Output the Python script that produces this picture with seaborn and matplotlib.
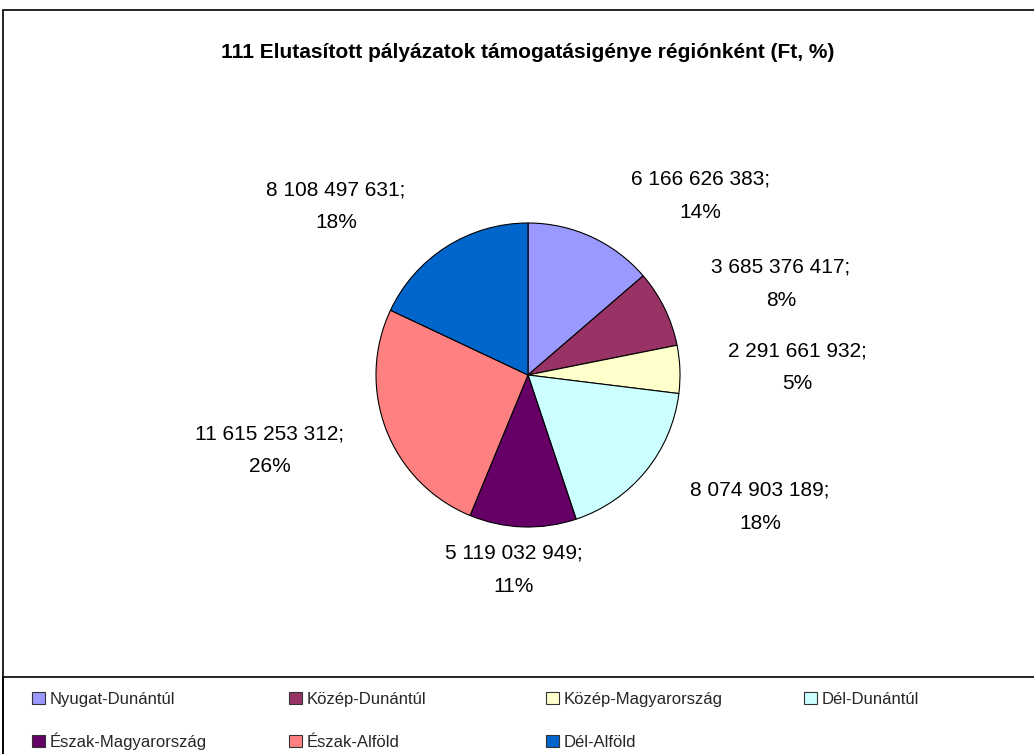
import numpy as np
import matplotlib
matplotlib.use('Agg')
import matplotlib.pyplot as plt
import seaborn as sns
from matplotlib.patches import Rectangle, Patch

regions = ['Nyugat-Dunántúl', 'Közép-Dunántúl', 'Közép-Magyarország', 'Dél-Dunántúl',
           'Észak-Magyarország', 'Észak-Alföld', 'Dél-Alföld']
amounts = [6166626383, 3685376417, 2291661932, 8074903189,
           5119032949, 11615253312, 8108497631]
colors = ['#9999FF', '#993366', '#FFFFCC', '#CCFFFF', '#660066', '#FF8080', '#0066CC']
title = '111 Elutasított pályázatok támogatásigénye régiónként (Ft, %)'

sns.set_theme(style='white')
plt.rcParams['font.family'] = ['Liberation Sans', 'DejaVu Sans']

W, H = 1034, 754
fig = plt.figure(figsize=(W / 100, H / 100), dpi=100)
fig.patch.set_facecolor('white')

# outer chart border and legend box
fig.add_artist(Rectangle((3 / W, -0.1), 1.2, 1 - 10 / H + 0.1, transform=fig.transFigure,
                         fill=False, edgecolor='black', linewidth=1.2))
fig.add_artist(Rectangle((3 / W, -0.1), 1.2, 0.1 + 77 / H, transform=fig.transFigure,
                         fill=False, edgecolor='black', linewidth=1.2))

fig.text(528 / W, 1 - 52 / H, title, ha='center', va='center',
         fontsize=15, fontweight='bold', color='black')

R = 152
cx, cy = 528, 375
ax = fig.add_axes([(cx - R) / W, 1 - (cy + R) / H, 2 * R / W, 2 * R / H])
wedges, _ = ax.pie(amounts, colors=colors, startangle=90, counterclock=False,
                   wedgeprops=dict(edgecolor='black', linewidth=0.8))
ax.set_xlim(-1, 1)
ax.set_ylim(-1, 1)
ax.set_aspect('equal')
ax.axis('off')

total = sum(amounts)
box_w, box_h = 205, 55
for w, v in zip(wedges, amounts):
    ang = np.deg2rad((w.theta1 + w.theta2) / 2)
    c, s = np.cos(ang), np.sin(ang)
    hx = np.clip(2.5 * c, -1, 1)
    hy = np.clip(1.5 * s, -1, 1)
    label = f"{v:,}".replace(",", " ") + ";\n" + f"{round(v / total * 100):.0f}%"
    ax.annotate(label, xy=(1.1 * c, 1.1 * s),
                xytext=(hx * box_w / 2, hy * box_h / 2), textcoords='offset pixels',
                ha='center', va='center', multialignment='center',
                fontsize=15, linespacing=1.95, color='black', annotation_clip=False)

# legend: 4 equal-width columns, filled row by row; one entry per legend so
# that every label sits on the same baseline
col_x = [33, 290, 547, 805]
row_bottom = [707, 750]
for i, (name, col) in enumerate(zip(regions, colors)):
    x0 = col_x[i % 4]
    y0 = row_bottom[i // 4]
    fig.legend([Patch(facecolor=col, edgecolor='#333333', linewidth=0.8)], [name],
               loc='lower left', bbox_to_anchor=((x0 - 1) / W, 1 - y0 / H), frameon=False,
               fontsize=12, handlelength=0.75, handleheight=0.75, handletextpad=0.3,
               borderpad=0, borderaxespad=0)

fig.savefig('out.png', dpi=100, facecolor='white')
